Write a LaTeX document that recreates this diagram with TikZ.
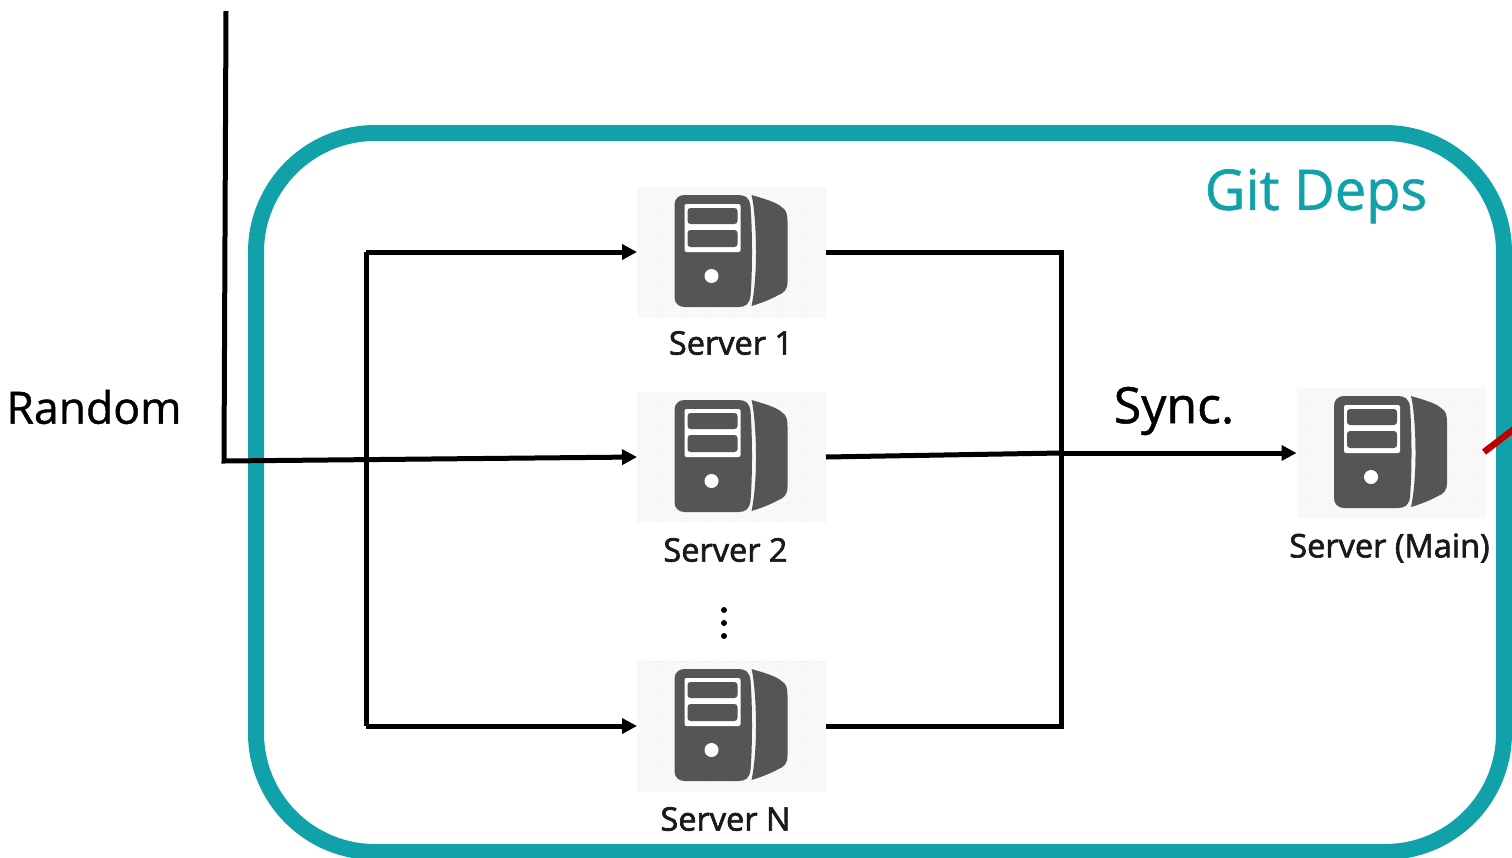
\documentclass[tikz,border=0pt]{standalone}
\usepackage{fontspec}
\setmainfont{Open Sans}
\newfontfamily\semifont[FakeBold=1.0]{Open Sans}
\newfontfamily\labelfont[FakeBold=2.0]{Open Sans}
\usetikzlibrary{arrows.meta,patterns}
\definecolor{teal1}{HTML}{11A2A9}
\definecolor{icon}{HTML}{555555}
\definecolor{redline}{HTML}{C00000}
\tikzset{
 x=1pt,y=-1pt,
 conn/.style={line width=5pt,draw=black,line join=miter},
 arrowed/.style={conn,-{Triangle[length=15pt,width=15pt]}},
 srvbg/.style={minimum width=189pt,minimum height=130pt,inner sep=0pt,outer sep=0pt,preaction={fill=black!2},pattern=dots,pattern color=black!13},
 srvlabel/.style={font=\labelfont\fontsize{32.5}{36}\selectfont,text=black!90,inner sep=0pt,anchor=center},
 bigtext/.style={font=\semifont\fontsize{44.5}{50}\selectfont,inner sep=0pt,anchor=center},
 servericon/.pic={
  \fill[icon] (-47,-57) -- (7,-57) .. controls (14,-57) and (18,-54) .. (19,-46) .. controls (21,-20) and (21,20) .. (19,44) .. controls (18,52) and (14,55) .. (7,55) -- (-47,55) .. controls (-53,55) and (-57,51) .. (-57,45) -- (-57,-47) .. controls (-57,-53) and (-53,-57) .. (-47,-57) -- cycle;
  \fill[icon] (20,-57) .. controls (30,-54) and (45,-50) .. (50,-45) .. controls (55,-42) and (56,-38) .. (56,-30) -- (56,30) .. controls (56,38) and (52,41) .. (47,43) .. controls (40,47) and (30,51) .. (20,54) .. controls (23,40) and (24.5,20) .. (24.5,0) .. controls (24.5,-20) and (23,-45) .. (20,-57) -- cycle;
  \fill[white,rounded corners=2pt] (-47,-48) rectangle (9,0);
  \fill[icon,rounded corners=3pt] (-44,-44) rectangle (6,-28);
  \fill[icon,rounded corners=3pt] (-44,-22) rectangle (6,-5);
  \fill[white] (-20,24) circle (7);
 }
}
\begin{document}
\begin{tikzpicture}
\useasboundingbox (0,0) rectangle (1512,857);
\clip (0,0) rectangle (1512,857);
\draw[teal1,line width=16pt,rounded corners=119pt] (256,133) rectangle (1504,852);

\node[srvbg] (s1) at (731.5,252) {};
\node[srvbg] (s2) at (731.5,457) {};
\node[srvbg] (sn) at (731.5,726) {};
\node[srvbg] (sm) at (1391,453) {};
\pic at (731.5,252) {servericon};
\pic at (731.5,457) {servericon};
\pic at (731.5,726) {servericon};
\pic at (1391,453) {servericon};

\node[srvlabel] (l1) at (731,343) {Server 1};
\node[srvlabel] (l2) at (725.5,550) {Server 2};
\node[srvlabel] (ln) at (725.5,819) {Server N};
\node[srvlabel] (lm) at (1389.5,548) {Server (Main)};
\node[bigtext] (rand) at (94,407) {Random};
\node[bigtext,font=\semifont\fontsize{50}{54}\selectfont] (sync) at (1174,411) {Sync.};
\node[bigtext,text=teal1,font=\semifont\fontsize{56}{60}\selectfont] (git) at (1316,196) {Git Deps};

\coordinate (top) at (226,11);
\coordinate (corner) at (224,461);
\coordinate (tt) at (366,252);
\coordinate (tb) at (366,726);
\coordinate (rt) at (1061,252);
\coordinate (rb) at (1061,726);
\coordinate (rm) at (1061,453);
\coordinate (r1) at (1484,452);
\coordinate (r2) at (1514,429);

\draw[arrowed] (top) -- (corner) -- (s2.west);
\draw[conn] (tt) -- (tb);
\draw[arrowed] (tt) -- (s1.west);
\draw[arrowed] (tb) -- (sn.west);
\draw[conn] (s1.east) -- (rt) -- (rb) -- (sn.east);
\draw[conn] (s2.east) -- (rm);
\draw[arrowed] (rm) -- (sm.west);
\draw[redline,line width=6.5pt] (r1) -- (r2);
\fill (724,610) circle (3) (724,623) circle (3) (724,636) circle (3);
\end{tikzpicture}
\end{document}
